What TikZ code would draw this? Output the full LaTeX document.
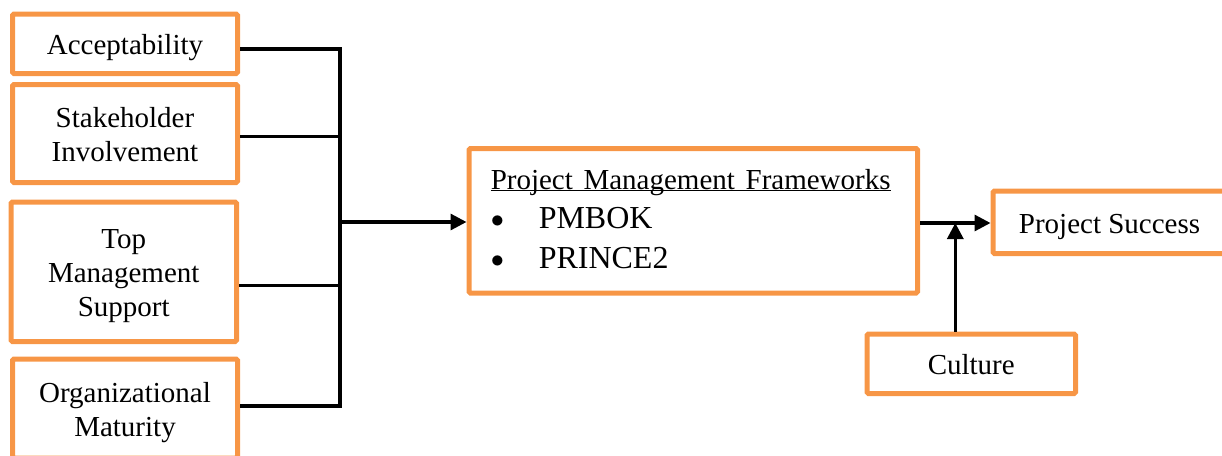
\documentclass[tikz,border=0pt]{standalone}
\usepackage{fontspec}
\setmainfont{Liberation Serif}
\usetikzlibrary{arrows.meta}
\definecolor{boxorange}{HTML}{F79646}
\newcommand\tstrut{\rule{0pt}{28pt}}
\newcommand\bstrut{\rule[-6.5pt]{0pt}{6.5pt}}
\newcommand\bul{\makebox[48pt][l]{\raisebox{1pt}{\resizebox*{!}{11.7pt}{$\bullet$}}}}
\begin{document}
\begin{tikzpicture}[x=1pt,y=-1pt,
  fbox/.style={draw=boxorange, line width=5pt, rounded corners=1.5pt, inner sep=0pt,
    align=center, font=\fontsize{29}{34}\selectfont, text=black},
  conn/.style={line width=3.2pt, draw=black},
  arr/.style={conn, -{Triangle[length=16pt,width=16pt]}}]
\useasboundingbox (0,0) rectangle (1222,455);
\clip (0,0) rectangle (1222,455);
% left column
\node[fbox, minimum width=225pt, minimum height=59.5pt] (acc) at (125,43.75)
  {\tstrut Acceptability\bstrut};
\node[fbox, minimum width=225pt, minimum height=98pt] (stk) at (125,133.5)
  {\tstrut Stakeholder\\ Involvement\bstrut};
\node[fbox, minimum width=225.5pt, minimum height=139.5pt] (top) at (123.75,271.75)
  {\tstrut Top\\ Management\\ Support\bstrut};
\node[fbox, minimum width=225pt, minimum height=99pt] (org) at (125,408.5)
  {\tstrut Organizational\\ Maturity\bstrut};
% frameworks
\node[fbox, minimum width=448.5pt, minimum height=144.5pt, text width=405pt, align=left,
  font=\fontsize{32}{39.5}\selectfont] (pmf) at (693.25,220.75)
  {{\fontsize{29}{34}\selectfont\rule{0pt}{22pt}\underline{\smash{Project Management Frameworks}}}\\
   \bul PMBOK\\
   \bul PRINCE2\bstrut};
% right
\node[fbox, minimum width=233pt, minimum height=62.5pt] (ps) at (1109.5,222.25)
  {\tstrut Project Success\bstrut};
\node[fbox, minimum width=208.5pt, minimum height=59.5pt] (cul) at (971.25,363.75)
  {\tstrut Culture\bstrut};
% junctions
\coordinate (j1) at (340,49);
\coordinate (j2) at (340,136.7);
\coordinate (j3) at (340,285.7);
\coordinate (j4) at (340,406);
\coordinate (j5) at (340,222);
\coordinate (j6) at (955.3,223);
% connectors
\draw[conn] (acc.east |- j1) -- (j1) -- (j4) -- (org.east |- j4);
\draw[conn] (stk.east |- j2) -- (j2);
\draw[conn] (top.east |- j3) -- (j3);
\draw[arr] (j5) -- (pmf.west |- j5);
\draw[arr] (pmf.east |- j6) -- (ps.west |- j6);
\draw[arr] (cul.north -| j6) -- (j6);
\end{tikzpicture}
\end{document}
